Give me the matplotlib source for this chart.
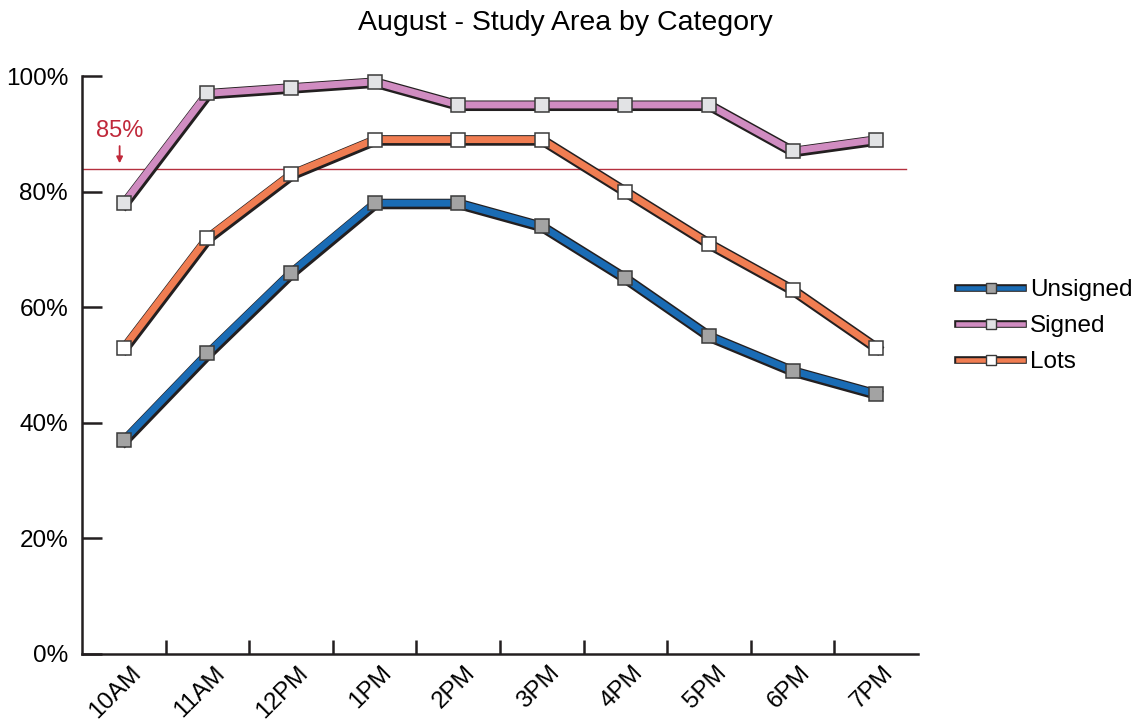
## August - Study Area by Category

## Importing Modules
import matplotlib.pyplot as plt
import matplotlib.patheffects as pe
from matplotlib.lines import Line2D
import numpy as np

## Data
hours = ['10AM', '11AM', '12PM', '1PM', '2PM', '3PM', '4PM', '5PM', '6PM', '7PM']
unsigned = [37, 52, 66, 78, 78, 74, 65, 55, 49, 45]
signed = [78, 97, 98, 99, 95, 95, 95, 95, 87, 89]
lots = [53, 72, 83, 89, 89, 89, 80, 71, 63, 53]
threshold = 83.9
threshold_label = '85%'
y_ticks = [0, 20, 40, 60, 80, 100]

plt.rcParams['font.family'] = ['Liberation Sans', 'DejaVu Sans']

fig = plt.figure(figsize=(11.31, 7.22), dpi=100)
ax = fig.add_axes([0.0725, 0.0942, 0.7392, 0.8005])
x = np.arange(len(hours))

# series: name, values, line colour, marker fill
series = [
    ('Unsigned', unsigned, '#1a6cb5', '#a3a3a3'),
    ('Signed', signed, '#d08cc1', '#e2e3e5'),
    ('Lots', lots, '#f07d52', '#ffffff'),
]

shadow = [pe.Stroke(linewidth=7.6, foreground='#231f20', offset=(0.6, -0.6)), pe.Normal()]
handles = []
for name, vals, col, mfc in series:
    # thick line with dark outline, then markers on top (no outline effect)
    ax.plot(x, vals, color=col, lw=5, path_effects=shadow, clip_on=False, zorder=3)
    ax.plot(x, vals, ls='none', marker='s', markersize=9.5, markerfacecolor=mfc,
            markeredgecolor='#3a3a3a', markeredgewidth=1.1, clip_on=False, zorder=4)
    h_line = Line2D([], [], color=col, lw=3.3,
                    path_effects=[pe.Stroke(linewidth=5.5, foreground='#231f20'), pe.Normal()])
    h_mark = Line2D([], [], ls='none', marker='s', markersize=7, markerfacecolor=mfc,
                    markeredgecolor='#3a3a3a', markeredgewidth=1)
    handles.append((h_line, h_mark))

# 85% reference line
ax.axhline(threshold, xmin=0, xmax=0.986, color='#b5303e', lw=1, zorder=2)
ax.annotate(threshold_label, xy=(-0.05, threshold + 1), xytext=(-0.05, 88.6),
            ha='center', va='bottom', color='#c0283a', fontsize=17,
            arrowprops=dict(arrowstyle='-|>', color='#c0283a', lw=1.3,
                            mutation_scale=9, shrinkA=1, shrinkB=0))

# Axes formatting
ax.set_xlim(-0.5, len(hours) - 0.5)
ax.set_ylim(0, 100)
ax.set_yticks(y_ticks)
ax.set_yticklabels([f'{t}%' for t in y_ticks], fontsize=17.5)
ax.set_xticks(x)
ax.set_xticklabels([])
# rotated category labels, sitting a little right of each category centre
for i, h in enumerate(hours):
    ax.annotate(h, xy=(i, 0), xycoords=('data', 'axes fraction'), xytext=(6, -8),
                textcoords='offset pixels', rotation=45, ha='right', va='top',
                rotation_mode='anchor', fontsize=17.5, annotation_clip=False)
ax.set_xticks(x[:-1] + 0.5, minor=True)
ax.tick_params(axis='x', which='major', length=0)
ax.tick_params(axis='x', which='minor', direction='in', length=10, width=1.8, color='#231f20')
ax.tick_params(axis='y', direction='in', length=14.5, width=1.8, color='#231f20', pad=10)
for s in ['top', 'right']:
    ax.spines[s].set_visible(False)
for s in ['left', 'bottom']:
    ax.spines[s].set_linewidth(1.8)
    ax.spines[s].set_color('#231f20')

ax.legend(handles, [s[0] for s in series], loc='center left', bbox_to_anchor=(1.022, 0.567),
          frameon=False, fontsize=17.5, handlelength=2.65, labelspacing=0.58,
          handletextpad=0.3)

fig.text(0.5, 0.968, 'August - Study Area by Category', ha='center', va='center', fontsize=20.5)

fig.savefig('out.png', dpi=100)
